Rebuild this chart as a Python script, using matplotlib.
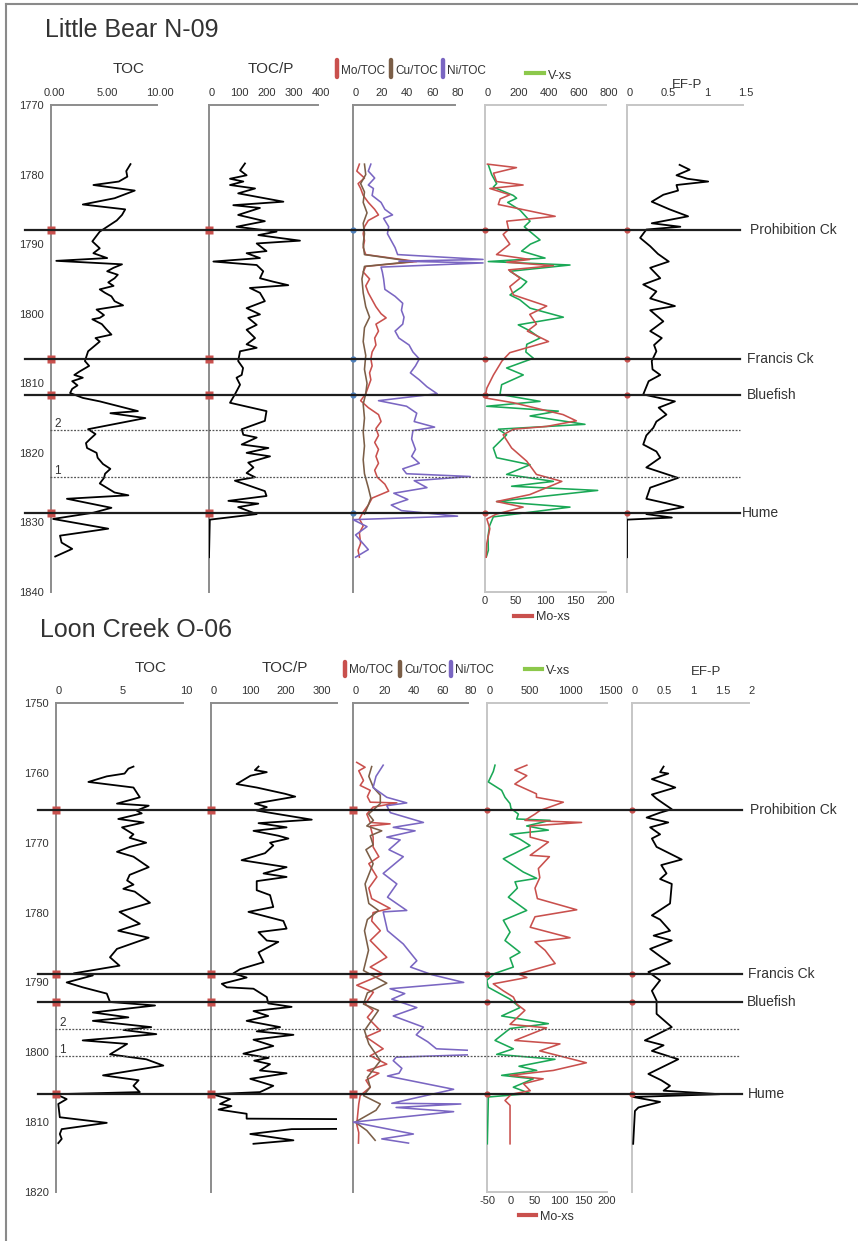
import matplotlib
matplotlib.use("Agg")
import matplotlib.pyplot as plt
import matplotlib.transforms as mtransforms
from matplotlib.lines import Line2D

# ------------------------------------------------------------------ data
formations = ["Prohibition Ck", "Francis Ck", "Bluefish", "Hume"]
marker_labels = ["2", "1"]

# Little Bear N-09
lb_tops = [1787.9, 1806.5, 1811.7, 1828.7]
lb_marks = [1816.7, 1823.4]
lb_toc = [(1778.5,7.5),(1779.5,7.1),(1780.3,7.2),(1781.0,6.4),(1781.5,4.0),(1782.3,7.9),(1783.4,6.0),(1784.3,3.0),(1785.0,7.0),(1785.8,6.7),(1786.6,6.2),(1787.5,5.3),(1788.2,4.6),(1789.6,3.9),(1790.6,4.6),(1791.3,4.0),(1792.0,5.3),(1792.4,0.5),(1792.9,6.7),(1793.4,5.9),(1793.9,5.3),(1794.4,6.3),(1794.9,6.0),(1795.5,5.4),(1796.0,5.9),(1796.5,4.6),(1797.0,5.1),(1797.5,5.7),(1798.2,6.0),(1798.8,6.8),(1799.4,4.3),(1800.2,5.0),(1800.6,4.6),(1800.8,3.9),(1801.5,4.8),(1802.2,5.2),(1803.0,5.7),(1803.5,4.2),(1804.0,4.6),(1805.4,3.5),(1806.8,3.2),(1807.5,3.6),(1808.3,2.7),(1808.8,2.2),(1809.2,3.0),(1809.7,2.0),(1810.3,2.5),(1810.8,2.0),(1811.4,1.8),(1812.1,3.0),(1812.6,4.6),(1814.0,8.2),(1814.3,5.6),(1815.0,8.9),(1816.6,3.5),(1817.3,4.2),(1818.0,3.7),(1818.6,3.3),(1819.3,3.4),(1820.0,4.3),(1820.7,4.4),(1821.6,4.9),(1822.3,5.6),(1823.0,5.1),(1823.6,5.0),(1824.4,4.6),(1825.7,6.0),(1826.1,7.3),(1826.6,1.5),(1827.9,5.7),(1828.6,4.0),(1829.5,0.2),(1830.9,5.4),(1831.9,0.85),(1832.9,1.0),(1833.8,2.0),(1834.9,0.4)]
lb_tocp = [(1778.4,132),(1779.4,114),(1780.1,138),(1780.6,77),(1781.0,126),(1781.5,77),(1782.0,169),(1782.7,107),(1783.9,273),(1784.4,89),(1784.8,187),(1785.8,107),(1786.7,205),(1787.5,101),(1788.2,248),(1788.7,181),(1789.5,334),(1789.9,175),(1791.0,211),(1791.3,138),(1792.0,187),(1792.5,16),(1793.0,175),(1793.9,199),(1794.9,187),(1795.4,236),(1795.9,291),(1796.3,150),(1797.0,187),(1798.2,205),(1799.2,138),(1800.1,187),(1800.6,144),(1801.6,175),(1802.3,138),(1803.5,169),(1804.4,138),(1804.9,175),(1805.4,114),(1806.8,107),(1807.8,125),(1808.8,120),(1809.2,101),(1810.2,114),(1811.6,95),(1812.8,77),(1814.0,211),(1815.4,205),(1816.6,120),(1817.4,126),(1817.8,175),(1818.8,120),(1819.3,218),(1820.0,138),(1820.5,224),(1821.4,144),(1822.1,163),(1822.9,138),(1823.5,169),(1824.0,95),(1825.5,205),(1826.2,211),(1826.9,71),(1827.3,181),(1827.8,107),(1828.8,175),(1829.6,3),(1835.0,0)]
lb_mo_toc = [(1778.5,5),(1779.5,3),(1780.5,9),(1781.3,4),(1782.0,6),(1783.0,8),(1784.0,12),(1785.0,17),(1785.8,20),(1786.6,12),(1787.5,9),(1788.5,8),(1789.5,9),(1790.5,8),(1791.5,10),(1792.5,50),(1793.2,10),(1794.0,8),(1795.0,13),(1796.0,10),(1797.0,12),(1798.0,15),(1799.0,18),(1800.0,22),(1800.6,26),(1801.5,18),(1802.5,20),(1803.5,17),(1804.5,18),(1805.5,15),(1806.5,14),(1807.5,15),(1808.5,13),(1809.5,14),(1810.5,12),(1811.5,10),(1812.5,6),(1813.5,12),(1814.5,20),(1815.5,22),(1816.5,18),(1817.5,20),(1818.5,17),(1819.5,20),(1820.5,18),(1821.5,20),(1822.5,17),(1823.5,19),(1824.5,25),(1825.5,28),(1826.5,15),(1827.5,12),(1828.5,8),(1829.5,5),(1830.5,8),(1831.5,5),(1833.0,6),(1834.0,4),(1835.0,5)]
lb_cu_toc = [(1778.5,9),(1780.0,10),(1781.3,6),(1782.5,9),(1784.0,8),(1785.5,11),(1787.0,8),(1788.5,9),(1790.0,8),(1791.5,9),(1792.5,47),(1793.2,9),(1795.0,7),(1797.0,8),(1799.0,10),(1800.5,13),(1802.0,9),(1804.0,8),(1806.0,10),(1808.0,9),(1810.0,11),(1811.5,10),(1813.0,8),(1815.0,9),(1817.0,8),(1819.0,9),(1821.0,8),(1823.0,9),(1825.0,12),(1826.5,14),(1827.5,12),(1828.8,9)]
lb_ni_toc = [(1778.5,14),(1779.5,12),(1780.5,17),(1781.5,12),(1782.0,16),(1783.0,15),(1784.0,22),(1785.0,25),(1785.8,31),(1786.3,24),(1787.5,28),(1788.5,27),(1789.5,30),(1790.5,33),(1791.5,35),(1792.2,102),(1792.45,36),(1792.7,102),(1793.3,22),(1794.0,23),(1795.0,24),(1796.5,25),(1797.5,33),(1798.5,39),(1799.5,38),(1800.5,40),(1801.5,39),(1802.5,33),(1803.5,36),(1804.5,44),(1805.5,47),(1806.5,52),(1807.5,49),(1808.5,45),(1809.5,52),(1810.5,58),(1811.5,66),(1812.5,20),(1813.3,42),(1814.3,50),(1815.5,48),(1816.3,64),(1816.8,47),(1818.0,46),(1819.5,49),(1820.5,46),(1821.5,52),(1822.3,39),(1823.0,42),(1823.4,92),(1824.0,48),(1825.0,58),(1825.8,32),(1826.7,43),(1827.5,30),(1828.3,38),(1829.1,82),(1829.6,0),(1830.6,11),(1831.8,2),(1833.9,12),(1835.0,2)]
lb_v = [(1778.6,22),(1780.0,44),(1781.3,77),(1781.8,55),(1783.0,187),(1783.4,209),(1784.0,150),(1785.1,231),(1786.7,298),(1787.5,260),(1788.2,298),(1789.4,364),(1790.0,300),(1791.0,242),(1792.0,397),(1792.5,22),(1793.0,562),(1793.9,165),(1795.4,276),(1796.2,240),(1797.3,165),(1798.0,230),(1799.2,298),(1800.5,518),(1801.6,220),(1802.5,300),(1803.5,364),(1804.4,276),(1805.5,270),(1806.4,320),(1807.8,143),(1808.8,253),(1810.2,110),(1811.6,99),(1812.6,364),(1813.3,11),(1814.0,485),(1814.7,298),(1815.9,661),(1816.6,88),(1817.4,143),(1819.3,55),(1820.7,77),(1821.7,298),(1823.1,143),(1824.1,452),(1824.8,176),(1825.4,745),(1826.5,276),(1827.0,77),(1827.8,562),(1829.2,55),(1830.5,30),(1832.0,20),(1834.0,22),(1834.8,11)]
lb_mo = [(1778.5,4),(1779.0,52),(1779.8,14),(1781.0,19),(1781.5,63),(1782.0,8),(1782.9,41),(1783.5,25),(1784.3,22),(1784.8,50),(1786.0,116),(1786.7,36),(1787.9,39),(1788.6,30),(1790.0,41),(1791.5,19),(1792.2,74),(1792.6,36),(1793.1,113),(1793.7,39),(1794.9,58),(1796.1,41),(1797.3,47),(1798.9,102),(1800.1,74),(1801.5,85),(1802.5,70),(1804.0,105),(1805.6,41),(1806.8,28),(1808.8,14),(1810.7,3),(1812.1,0),(1812.8,47),(1814.5,129),(1815.4,151),(1816.2,102),(1816.6,47),(1817.4,30),(1819.3,44),(1821.2,69),(1823.1,85),(1824.1,127),(1826.0,74),(1827.0,19),(1827.8,63),(1828.8,19),(1829.5,3),(1830.9,8),(1833.0,3),(1835.0,2)]
lb_efp = [(1778.6,0.68),(1779.3,0.81),(1780.1,0.64),(1780.6,0.78),(1781.0,1.05),(1781.5,0.64),(1782.3,0.66),(1782.9,0.47),(1783.9,0.32),(1785.0,0.55),(1786.0,0.79),(1787.0,0.32),(1787.5,0.69),(1787.9,0.25),(1789.1,0.17),(1790.3,0.30),(1791.4,0.40),(1792.5,0.54),(1793.4,0.30),(1794.9,0.43),(1795.8,0.21),(1796.8,0.38),(1797.8,0.30),(1798.9,0.62),(1799.5,0.30),(1801.1,0.47),(1802.5,0.30),(1803.5,0.45),(1804.5,0.35),(1805.4,0.38),(1806.8,0.32),(1808.0,0.33),(1808.8,0.43),(1809.7,0.28),(1811.6,0.21),(1812.6,0.62),(1813.5,0.41),(1814.5,0.51),(1815.5,0.38),(1816.4,0.34),(1817.5,0.25),(1818.8,0.21),(1819.8,0.38),(1820.7,0.43),(1822.1,0.25),(1823.6,0.66),(1825.0,0.30),(1826.6,0.25),(1827.8,0.73),(1828.8,0.25),(1829.3,0.58),(1829.6,0.0),(1835.0,0.0)]

# Loon Creek O-06
lc_tops = [1765.3, 1788.8, 1792.8, 1806.0]
lc_marks = [1796.6, 1800.6]
lc_toc = [(1759.1,6.1),(1759.4,5.7),(1760.1,5.4),(1760.5,4.0),(1761.3,2.55),(1762.1,6.1),(1763.5,6.6),(1764.4,4.8),(1764.7,7.3),(1765.4,6.35),(1765.8,6.75),(1766.6,4.9),(1767.1,6.9),(1767.8,5.2),(1768.8,6.1),(1769.3,5.8),(1770.0,7.1),(1770.6,5.8),(1771.3,4.8),(1772.0,6.1),(1773.5,7.3),(1774.6,5.8),(1775.4,5.6),(1776.0,6.1),(1776.6,5.3),(1777.0,6.2),(1778.6,7.4),(1779.9,5.0),(1781.6,6.6),(1782.6,4.9),(1783.6,7.3),(1785.2,4.8),(1786.4,4.25),(1787.6,5.0),(1788.7,1.4),(1789.0,2.9),(1790.0,0.84),(1790.7,2.1),(1791.6,4.0),(1792.8,4.25),(1793.3,7.8),(1794.3,2.9),(1795.0,5.7),(1795.5,2.9),(1796.4,7.5),(1796.8,5.3),(1797.4,7.9),(1798.3,2.1),(1798.8,5.6),(1800.3,4.25),(1801.0,7.1),(1801.9,8.45),(1803.3,3.7),(1804.0,6.5),(1804.8,6.1),(1805.7,6.6),(1806.0,0.0),(1806.7,0.84),(1807.4,0.18),(1809.3,0.3),(1810.1,4.0),(1811.0,0.45),(1811.7,0.3),(1812.4,0.45),(1813.0,0.18)]
lc_tocp = [(1759.1,132),(1759.6,122),(1759.9,155),(1760.4,110),(1761.6,71),(1762.1,127),(1763.0,206),(1763.4,234),(1764.4,122),(1764.9,155),(1765.4,127),(1766.7,280),(1767.2,132),(1767.8,210),(1768.3,118),(1769.0,187),(1769.4,215),(1770.0,164),(1770.4,173),(1771.5,150),(1772.5,85),(1773.5,210),(1774.4,146),(1774.9,210),(1775.5,127),(1776.8,127),(1777.5,164),(1779.2,173),(1779.9,104),(1781.2,201),(1782.3,210),(1782.8,132),(1784.0,155),(1784.2,187),(1785.7,132),(1787.1,146),(1788.1,81),(1788.7,62),(1789.3,99),(1790.2,30),(1790.7,44),(1790.9,118),(1792.1,155),(1793.0,159),(1793.5,224),(1794.1,118),(1794.8,159),(1795.5,99),(1796.4,192),(1797.0,127),(1797.5,229),(1798.2,118),(1799.1,173),(1800.2,90),(1800.8,160),(1801.2,120),(1801.7,164),(1802.6,136),(1803.0,210),(1803.8,109),(1804.8,173),(1805.7,136),(1806.0,2),(1806.7,53),(1807.4,25),(1807.7,57),(1808.2,21),(1808.8,99),(1809.5,99),(1810.25,3000),(1811.0,224),(1811.7,109),(1812.6,229),(1813.1,118)]
lc_mo_toc = [(1758.5,2.6),(1759.2,8.4),(1759.7,4),(1761.1,7.3),(1761.8,5),(1762.5,12),(1763.4,10),(1764.2,12),(1764.3,30.5),(1764.9,14),(1765.9,9.6),(1767.1,12),(1767.3,25.8),(1767.6,12),(1769.2,14),(1770.6,14),(1772.0,18),(1773.0,11),(1774.9,16.6),(1776.5,11),(1778.0,13),(1779.4,25.8),(1780.0,14),(1781.2,13),(1782.6,19),(1784.0,12),(1786.4,23.5),(1787.8,12),(1788.8,21),(1790.4,2.6),(1791.4,14.2),(1793.1,8.4),(1794.0,14),(1795.0,10),(1796.9,19),(1797.8,9),(1799.5,21),(1800.5,12),(1801.7,23.5),(1802.6,10),(1803.0,18),(1804.0,9),(1805.0,12),(1806.2,5),(1807.4,4),(1810.3,2.6),(1811.5,4),(1813.0,3.8)]
lc_cu_toc = [(1759.1,13),(1760.5,11),(1762.1,14.2),(1763.2,19),(1764.4,19),(1765.9,10.8),(1766.8,14.2),(1767.6,9.6),(1768.3,20),(1769.0,12),(1770.3,14),(1771.0,9),(1773.0,14),(1775.9,8.4),(1778.7,11),(1779.7,17.7),(1781.0,10),(1782.6,8),(1785.4,10.8),(1788.3,7.3),(1790.1,23.5),(1791.5,10),(1793.1,7.3),(1794.0,17.7),(1796.9,8),(1798.8,11),(1801.2,19),(1803.6,10),(1805.0,12),(1806.2,7.3),(1807.4,19),(1808.3,16),(1810.0,1.5),(1811.2,9.6),(1812.6,15.4)]
lc_ni_toc = [(1758.9,21),(1760.5,16),(1762.1,14),(1763.5,23.5),(1764.3,37.4),(1764.7,23.5),(1765.7,26),(1767.1,49),(1767.8,28),(1768.3,43.2),(1769.2,23.5),(1769.6,32.8),(1771.0,25),(1772.0,35),(1774.4,21),(1775.9,30.5),(1777.8,24),(1779.7,37.4),(1779.9,21),(1782.6,24),(1784.5,35),(1786.9,44.4),(1787.8,40),(1788.9,55),(1790.0,77),(1790.9,25.8),(1791.6,36),(1792.4,27),(1793.6,44.4),(1794.8,28),(1796.4,49),(1797.5,44),(1798.5,52),(1799.5,58),(1800.1,120),(1800.7,30),(1801.2,28),(1802.3,34),(1803.0,32),(1803.4,24),(1805.3,70),(1807.3,27),(1807.4,75),(1807.9,30),(1808.5,70),(1810.0,0),(1811.7,42),(1812.4,20),(1813.0,38.6)]
lc_v = [(1758.9,100),(1759.8,79),(1761.3,17),(1762.5,183),(1763.5,225),(1764.4,288),(1765.1,300),(1765.9,392),(1766.6,371),(1766.8,788),(1767.6,496),(1768.2,767),(1768.8,288),(1769.5,413),(1770.4,538),(1771.5,350),(1772.3,204),(1774.2,454),(1775.1,621),(1775.6,350),(1776.5,380),(1777.8,267),(1779.7,496),(1781.1,204),(1782.8,288),(1784.0,225),(1785.7,413),(1786.5,288),(1787.8,329),(1788.7,100),(1789.7,-4),(1790.7,17),(1792.4,288),(1793.6,413),(1794.8,183),(1795.9,767),(1796.6,288),(1798.3,100),(1799.5,329),(1800.3,121),(1801.0,850),(1802.0,400),(1802.6,621),(1803.3,183),(1803.8,579),(1805.0,329),(1805.9,538),(1806.4,17),(1813.1,4)]
lc_mo = [(1758.9,33),(1759.6,8),(1760.4,33),(1761.6,8),(1763.0,53),(1763.5,53),(1764.2,109),(1765.4,60),(1765.9,50),(1766.8,29),(1767.1,147),(1767.6,40),(1769.2,40),(1769.9,78),(1771.8,40),(1772.0,80),(1773.7,57),(1775.0,60),(1776.5,50),(1778.0,55),(1779.6,137),(1780.6,50),(1782.1,40),(1783.6,123),(1784.2,50),(1785.4,71),(1787.3,92),(1788.8,15),(1789.3,33),(1790.2,-37),(1791.2,-16),(1792.1,5),(1793.1,12),(1794.0,29),(1796.0,-2),(1796.5,74),(1798.3,8),(1798.8,102),(1799.8,60),(1801.5,157),(1802.6,88),(1803.3,-2),(1803.8,67),(1804.5,26),(1805.5,40),(1806.0,1),(1806.9,-12.5),(1807.6,-2),(1813.1,-2)]
lc_efp = [(1759.1,0.54),(1759.9,0.48),(1760.1,0.62),(1760.9,0.34),(1762.1,0.74),(1763.1,0.34),(1763.7,0.42),(1764.4,0.54),(1765.2,0.68),(1765.7,0.48),(1766.4,0.25),(1767.1,0.62),(1767.8,0.31),(1768.8,0.48),(1769.4,0.34),(1770.6,0.42),(1772.4,0.85),(1773.2,0.50),(1774.4,0.59),(1775.2,0.48),(1775.9,0.68),(1778.7,0.65),(1780.4,0.34),(1781.0,0.48),(1782.6,0.65),(1783.3,0.37),(1784.0,0.68),(1785.2,0.31),(1787.3,0.65),(1788.5,0.28),(1789.7,0.48),(1791.2,0.34),(1792.6,0.42),(1794.5,0.42),(1796.4,0.68),(1798.3,0.22),(1799.0,0.54),(1799.8,0.34),(1801.0,0.79),(1803.1,0.28),(1804.0,0.50),(1804.8,0.65),(1805.5,0.54),(1806.0,1.5),(1806.4,0.02),(1807.1,0.48),(1807.9,0.11),(1808.4,0.05),(1813.1,0.02)]

# ------------------------------------------------------------------ style
W, H = 858, 1241
plt.rcParams["font.family"] = ["Liberation Sans", "DejaVu Sans"]
TXT = "#333333"
RED = "#c9504d"; BROWN = "#7b5e47"; PURPLE = "#7a66c2"; GREEN = "#1aa856"
LEG_GREEN = "#8cc84b"; BLUE = "#4f81bd"
DARK_AX = "#8c8c8c"; LIGHT_AX = "#c6c6c6"

fig = plt.figure(figsize=(W / 100, H / 100), dpi=100)
lab_shift = mtransforms.ScaledTranslation(3 / 100, 0, fig.dpi_scale_trans)


def rect(x0, x1, yt, yb):
    return [x0 / W, 1 - yb / H, (x1 - x0) / W, (yb - yt) / H]


def style_top_ticks(ax, xticks, xlabels):
    ax.xaxis.tick_top()
    ax.set_xticks(xticks)
    ax.set_xticklabels(xlabels)
    ax.tick_params(axis="x", length=0, pad=5, labelsize=8, labelcolor=TXT,
                   labeltop=True, labelbottom=False)
    for tk in ax.xaxis.get_major_ticks():
        tk.label2.set_transform(tk.label2.get_transform() + lab_shift)


def track(x0, x1, yt, yb, xlim, dlim, axcol, dticks=None):
    ax = fig.add_axes(rect(x0, x1, yt, yb))
    ax.set_xlim(*xlim)
    ax.set_ylim(dlim[1], dlim[0])
    ax.patch.set_visible(False)
    for s in ("right", "bottom"):
        ax.spines[s].set_visible(False)
    for s in ("top", "left"):
        ax.spines[s].set_color(axcol)
        ax.spines[s].set_linewidth(1.4)
    if dticks is not None:
        ax.set_yticks(dticks)
        ax.set_yticklabels([str(t) for t in dticks])
        ax.tick_params(axis="y", length=0, pad=5, labelsize=8, labelcolor=TXT)
    else:
        ax.set_yticks([])
    return ax


def curve(ax, pairs, color, lw=1.15, clip=True):
    d, v = zip(*pairs)
    ax.plot(v, d, color=color, lw=lw, clip_on=clip, zorder=3)


def tops_markers(ax, depths, marker, color, ms):
    ax.plot([ax.get_xlim()[0]] * len(depths), depths, marker, color=color,
            ms=ms, clip_on=False, zorder=6, mec="none")


def panel(cfg):
    yt, yb, dlim = cfg["yt"], cfg["yb"], cfg["dlim"]
    dt = list(range(dlim[0], dlim[1] + 1, 10))
    t = cfg["tracks"]
    axes = []
    for i, (x0, x1, xlim, xt, xl) in enumerate(t):
        col = DARK_AX if i < 3 else LIGHT_AX
        axes.append(track(x0, x1, yt, yb, xlim, dlim, col, dticks=dt if i == 0 else None))
    a1, a2, a3, a4, a5 = axes
    # secondary (Mo-xs) axis at the bottom of track 4
    b4 = a4.twiny()
    b4.set_xlim(*cfg["mo_lim"])
    b4.patch.set_visible(False)
    for s in ("top", "right", "left"):
        b4.spines[s].set_visible(False)
    b4.spines["bottom"].set_visible(True)
    b4.spines["bottom"].set_color(LIGHT_AX)
    b4.spines["bottom"].set_linewidth(1.4)
    b4.xaxis.set_ticks_position("bottom")
    b4.set_xticks(cfg["mo_ticks"])
    b4.set_xticklabels([str(v) for v in cfg["mo_ticks"]])
    b4.tick_params(axis="x", length=0, pad=3, labelsize=8, labelcolor=TXT,
                   labelbottom=True, labeltop=False)
    for ax, (x0, x1, xlim, xt, xl) in zip(axes, t):
        style_top_ticks(ax, xt, xl)

    d = cfg["data"]
    curve(a1, d["toc"], "black", lw=1.3)
    curve(a2, d["tocp"], "black", lw=1.3)
    curve(a3, d["mo_toc"], RED, clip=cfg["clip3"])
    curve(a3, d["cu_toc"], BROWN, clip=cfg["clip3"])
    curve(a3, d["ni_toc"], PURPLE, clip=cfg["clip3"])
    curve(b4, d["mo"], RED)
    curve(a4, d["v"], GREEN)
    curve(a5, d["efp"], "black", lw=1.3)

    tops = cfg["tops"]
    tops_markers(a1, tops, "s", RED, 6)
    tops_markers(a2, tops, "s", RED, 6)
    if cfg["t3_marker"] == "blue":
        tops_markers(a3, tops, "o", BLUE, 4.5)
    else:
        tops_markers(a3, tops, "s", RED, 6)
    tops_markers(a4, tops, "o", RED, 4.5)
    tops_markers(a5, tops, "o", RED, 4.5)

    # formation lines across the whole panel
    tr = mtransforms.blended_transform_factory(fig.transFigure, a1.transData)
    lx0, lx1 = cfg["line_x"]
    for name, dep, tx in zip(formations, tops, cfg["label_x"]):
        fig.add_artist(Line2D([lx0 / W, lx1 / W], [dep, dep], transform=tr,
                              color="#1e1e1e", lw=1.6, zorder=4))
        fig.text(tx / W, dep, name, transform=tr, va="center", ha="left",
                 fontsize=10, color=TXT)
    mx0, mx1 = cfg["mark_x"]
    for lab, dep in zip(marker_labels, cfg["marks"]):
        fig.add_artist(Line2D([mx0 / W, mx1 / W], [dep, dep], transform=tr,
                              color="#555555", lw=0.9, ls=(0, (1.5, 1.2)), zorder=4))
        fig.text((mx0 + 4) / W, dep, lab, transform=tr, va="bottom", ha="left",
                 fontsize=8.5, color=TXT)
    return a1


def ftext(x, y, s, **kw):
    kw.setdefault("color", TXT)
    fig.text(x / W, 1 - y / H, s, **kw)


def fline(x0, x1, y0, y1, **kw):
    fig.add_artist(Line2D([x0 / W, x1 / W], [1 - y0 / H, 1 - y1 / H], **kw))


lb_cfg = dict(
    yt=105, yb=592, dlim=(1770, 1840),
    tracks=[(51, 157, (0, 10), [0, 5, 10], ["0.00", "5.00", "10.00"]),
            (209, 318, (0, 400), [0, 100, 200, 300, 400], ["0", "100", "200", "300", "400"]),
            (353, 455, (0, 80), [0, 20, 40, 60, 80], ["0", "20", "40", "60", "80"]),
            (485, 606, (0, 800), [0, 200, 400, 600, 800], ["0", "200", "400", "600", "800"]),
            (627, 743, (0, 1.5), [0, 0.5, 1, 1.5], ["0", "0.5", "1", "1.5"])],
    mo_lim=(0, 200), mo_ticks=[0, 50, 100, 150, 200],
    data=dict(toc=lb_toc, tocp=lb_tocp, mo_toc=lb_mo_toc, cu_toc=lb_cu_toc,
              ni_toc=lb_ni_toc, v=lb_v, mo=lb_mo, efp=lb_efp),
    tops=lb_tops, marks=lb_marks, clip3=False, t3_marker="blue",
    line_x=(25, 740), label_x=(750, 747, 747, 742), mark_x=(50, 740))

lc_cfg = dict(
    yt=703, yb=1192, dlim=(1750, 1820),
    tracks=[(56, 183, (0, 10), [0, 5, 10], ["0", "5", "10"]),
            (211, 337, (0, 350), [0, 100, 200, 300], ["0", "100", "200", "300"]),
            (353, 468, (0, 80), [0, 20, 40, 60, 80], ["0", "20", "40", "60", "80"]),
            (487, 607, (0, 1500), [0, 500, 1000, 1500], ["0", "500", "1000", "1500"]),
            (632, 749, (0, 2), [0, 0.5, 1, 1.5, 2], ["0", "0.5", "1", "1.5", "2"])],
    mo_lim=(-50, 200), mo_ticks=[-50, 0, 50, 100, 150, 200],
    data=dict(toc=lc_toc, tocp=lc_tocp, mo_toc=lc_mo_toc, cu_toc=lc_cu_toc,
              ni_toc=lc_ni_toc, v=lc_v, mo=lc_mo, efp=lc_efp),
    tops=lc_tops, marks=lc_marks, clip3=True, t3_marker="red",
    line_x=(38, 742), label_x=(750, 748, 747, 748), mark_x=(55, 740))

panel(lb_cfg)
panel(lc_cfg)

# ---------------------------------------------------------------- headings
ftext(45, 37, "Little Bear N-09", fontsize=18, va="baseline")
ftext(40, 637, "Loon Creek O-06", fontsize=18, va="baseline")

for x, y, s in [(129, 73, "TOC"), (271, 73, "TOC/P"), (687, 88, "EF-P"),
                (151, 672, "TOC"), (285, 672, "TOC/P"), (706, 675, "EF-P")]:
    ftext(x, y, s, fontsize=11 if s != "EF-P" else 9.5, ha="center", va="baseline")

# legend swatches
for (y0, y1, base), items in [((60, 77, 74), [(337, RED, "Mo/TOC"), (391, BROWN, "Cu/TOC"), (443, PURPLE, "Ni/TOC")]),
                              ((662, 676, 673), [(345, RED, "Mo/TOC"), (400, BROWN, "Cu/TOC"), (451, PURPLE, "Ni/TOC")])]:
    for x, c, s in items:
        fline(x, x, y0, y1, color=c, lw=3.2, solid_capstyle="round")
        ftext(x + 4, base, s, fontsize=8.5, va="baseline")

for lx0, lx1, ly, tx, ty, c, s in [(526, 544, 73, 548, 79, LEG_GREEN, "V-xs"),
                                   (525, 542, 669, 546, 674, LEG_GREEN, "V-xs"),
                                   (514, 532, 616, 536, 620, RED, "Mo-xs"),
                                   (519, 536, 1215, 540, 1220, RED, "Mo-xs")]:
    fline(lx0, lx1, ly, ly, color=c, lw=3)
    ftext(tx, ty, s, fontsize=9, va="baseline")

# frame
fline(5.5, 5.5, 4, H, color="#8a8a8a", lw=1.5)
fline(5.5, W, 4, 4, color="#8a8a8a", lw=1.5)

fig.savefig("out.png", dpi=100)
